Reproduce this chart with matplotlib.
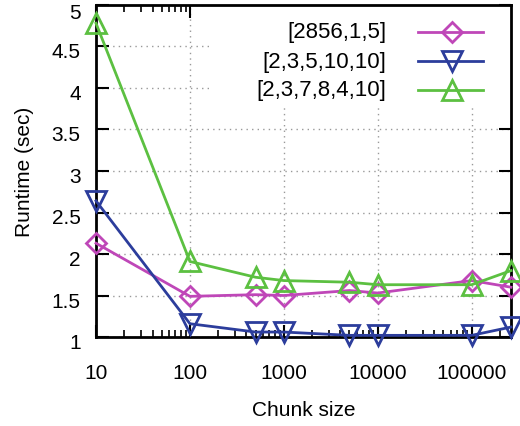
import matplotlib
matplotlib.use('Agg')
import matplotlib.pyplot as plt
from matplotlib.patches import Rectangle
from matplotlib.ticker import LogLocator, FixedLocator, NullFormatter
from matplotlib.transforms import ScaledTranslation

plt.rcParams['font.family'] = ['Liberation Sans', 'DejaVu Sans']

# chunk sizes and runtimes
chunk = [10, 100, 500, 1000, 5000, 10000, 100000, 262144]
rt_2856 = [2.13, 1.49, 1.51, 1.50, 1.56, 1.53, 1.68, 1.60]
rt_235 = [2.64, 1.16, 1.06, 1.06, 1.02, 1.02, 1.02, 1.12]
rt_2378 = [4.78, 1.91, 1.72, 1.68, 1.66, 1.63, 1.63, 1.80]
labels = ['[2856,1,5]', '[2,3,5,10,10]', '[2,3,7,8,4,10]']
colors = ['#bf47b8', '#2c3d9c', '#5cc041']
markers = ['D', 'v', '^']
msizes = [10, 14, 14]

fig = plt.figure(figsize=(5.2, 4.27), dpi=100)
ax = fig.add_axes([0.1846, 0.2084, 0.7981, 0.7776])

series = [rt_2856, rt_235, rt_2378]
for ys, c, m, ms in zip(series, colors, markers, msizes):
    ax.plot(chunk, ys, color=c, lw=2, marker=m, ms=ms,
            mfc='none', mec=c, mew=2, clip_on=False, zorder=5)

ax.set_xscale('log')
ax.set_xlim(10, 262144)
ax.set_ylim(1, 5)
ax.xaxis.set_major_locator(FixedLocator([10, 100, 1000, 10000, 100000]))
ax.xaxis.set_minor_locator(LogLocator(base=10, subs=range(2, 10)))
ax.xaxis.set_minor_formatter(NullFormatter())
ax.set_xticklabels(['10', '100', '1000', '10000', '100000'])
ax.set_yticks([1, 1.5, 2, 2.5, 3, 3.5, 4, 4.5, 5])
ax.set_yticklabels(['1', '1.5', '2', '2.5', '3', '3.5', '4', '4.5', '5'])

ax.tick_params(which='major', direction='in', length=9, width=1.5,
               top=True, right=True, labelsize=15)
ax.tick_params(axis='x', which='major', pad=19)
ax.tick_params(axis='y', which='major', pad=11)
ax.tick_params(which='minor', direction='in', length=5, width=1.2,
               top=True, right=True)
for s in ax.spines.values():
    s.set_linewidth(2)

# gnuplot puts the y labels a little below their ticks, the top one more so
ylabs = ax.get_yticklabels()
for i, lab in enumerate(ylabs):
    dy = 0.06 if i == len(ylabs) - 1 else 0.035
    lab.set_transform(lab.get_transform() +
                      ScaledTranslation(0, -dy, fig.dpi_scale_trans))

ax.grid(True, which='major', color='#999999', lw=1, ls=(0, (1, 3)))

ax.set_xlabel('Chunk size', fontsize=15, labelpad=13)
ax.set_ylabel('Runtime (sec)', fontsize=15, labelpad=13)

# legend drawn gnuplot style: right-aligned text, sample on the right
ax.add_patch(Rectangle((0.28, 0.70), 0.72, 0.30, transform=ax.transAxes,
                       facecolor='white', edgecolor='none', zorder=2))
leg_y = [0.919, 0.831, 0.744]
for yy, lab, c, m, ms in zip(leg_y, labels, colors, markers, msizes):
    ax.text(0.70, yy, lab, transform=ax.transAxes, ha='right', va='center',
            fontsize=16, zorder=6)
    ax.plot([0.776, 0.933], [yy, yy], transform=ax.transAxes, color=c, lw=2,
            zorder=6, clip_on=False)
    ax.plot([0.858], [yy], transform=ax.transAxes, color=c, lw=0,
            marker=m, ms=ms, mfc='none', mec=c, mew=2,
            zorder=6, clip_on=False)

fig.savefig('out.png', dpi=100)
